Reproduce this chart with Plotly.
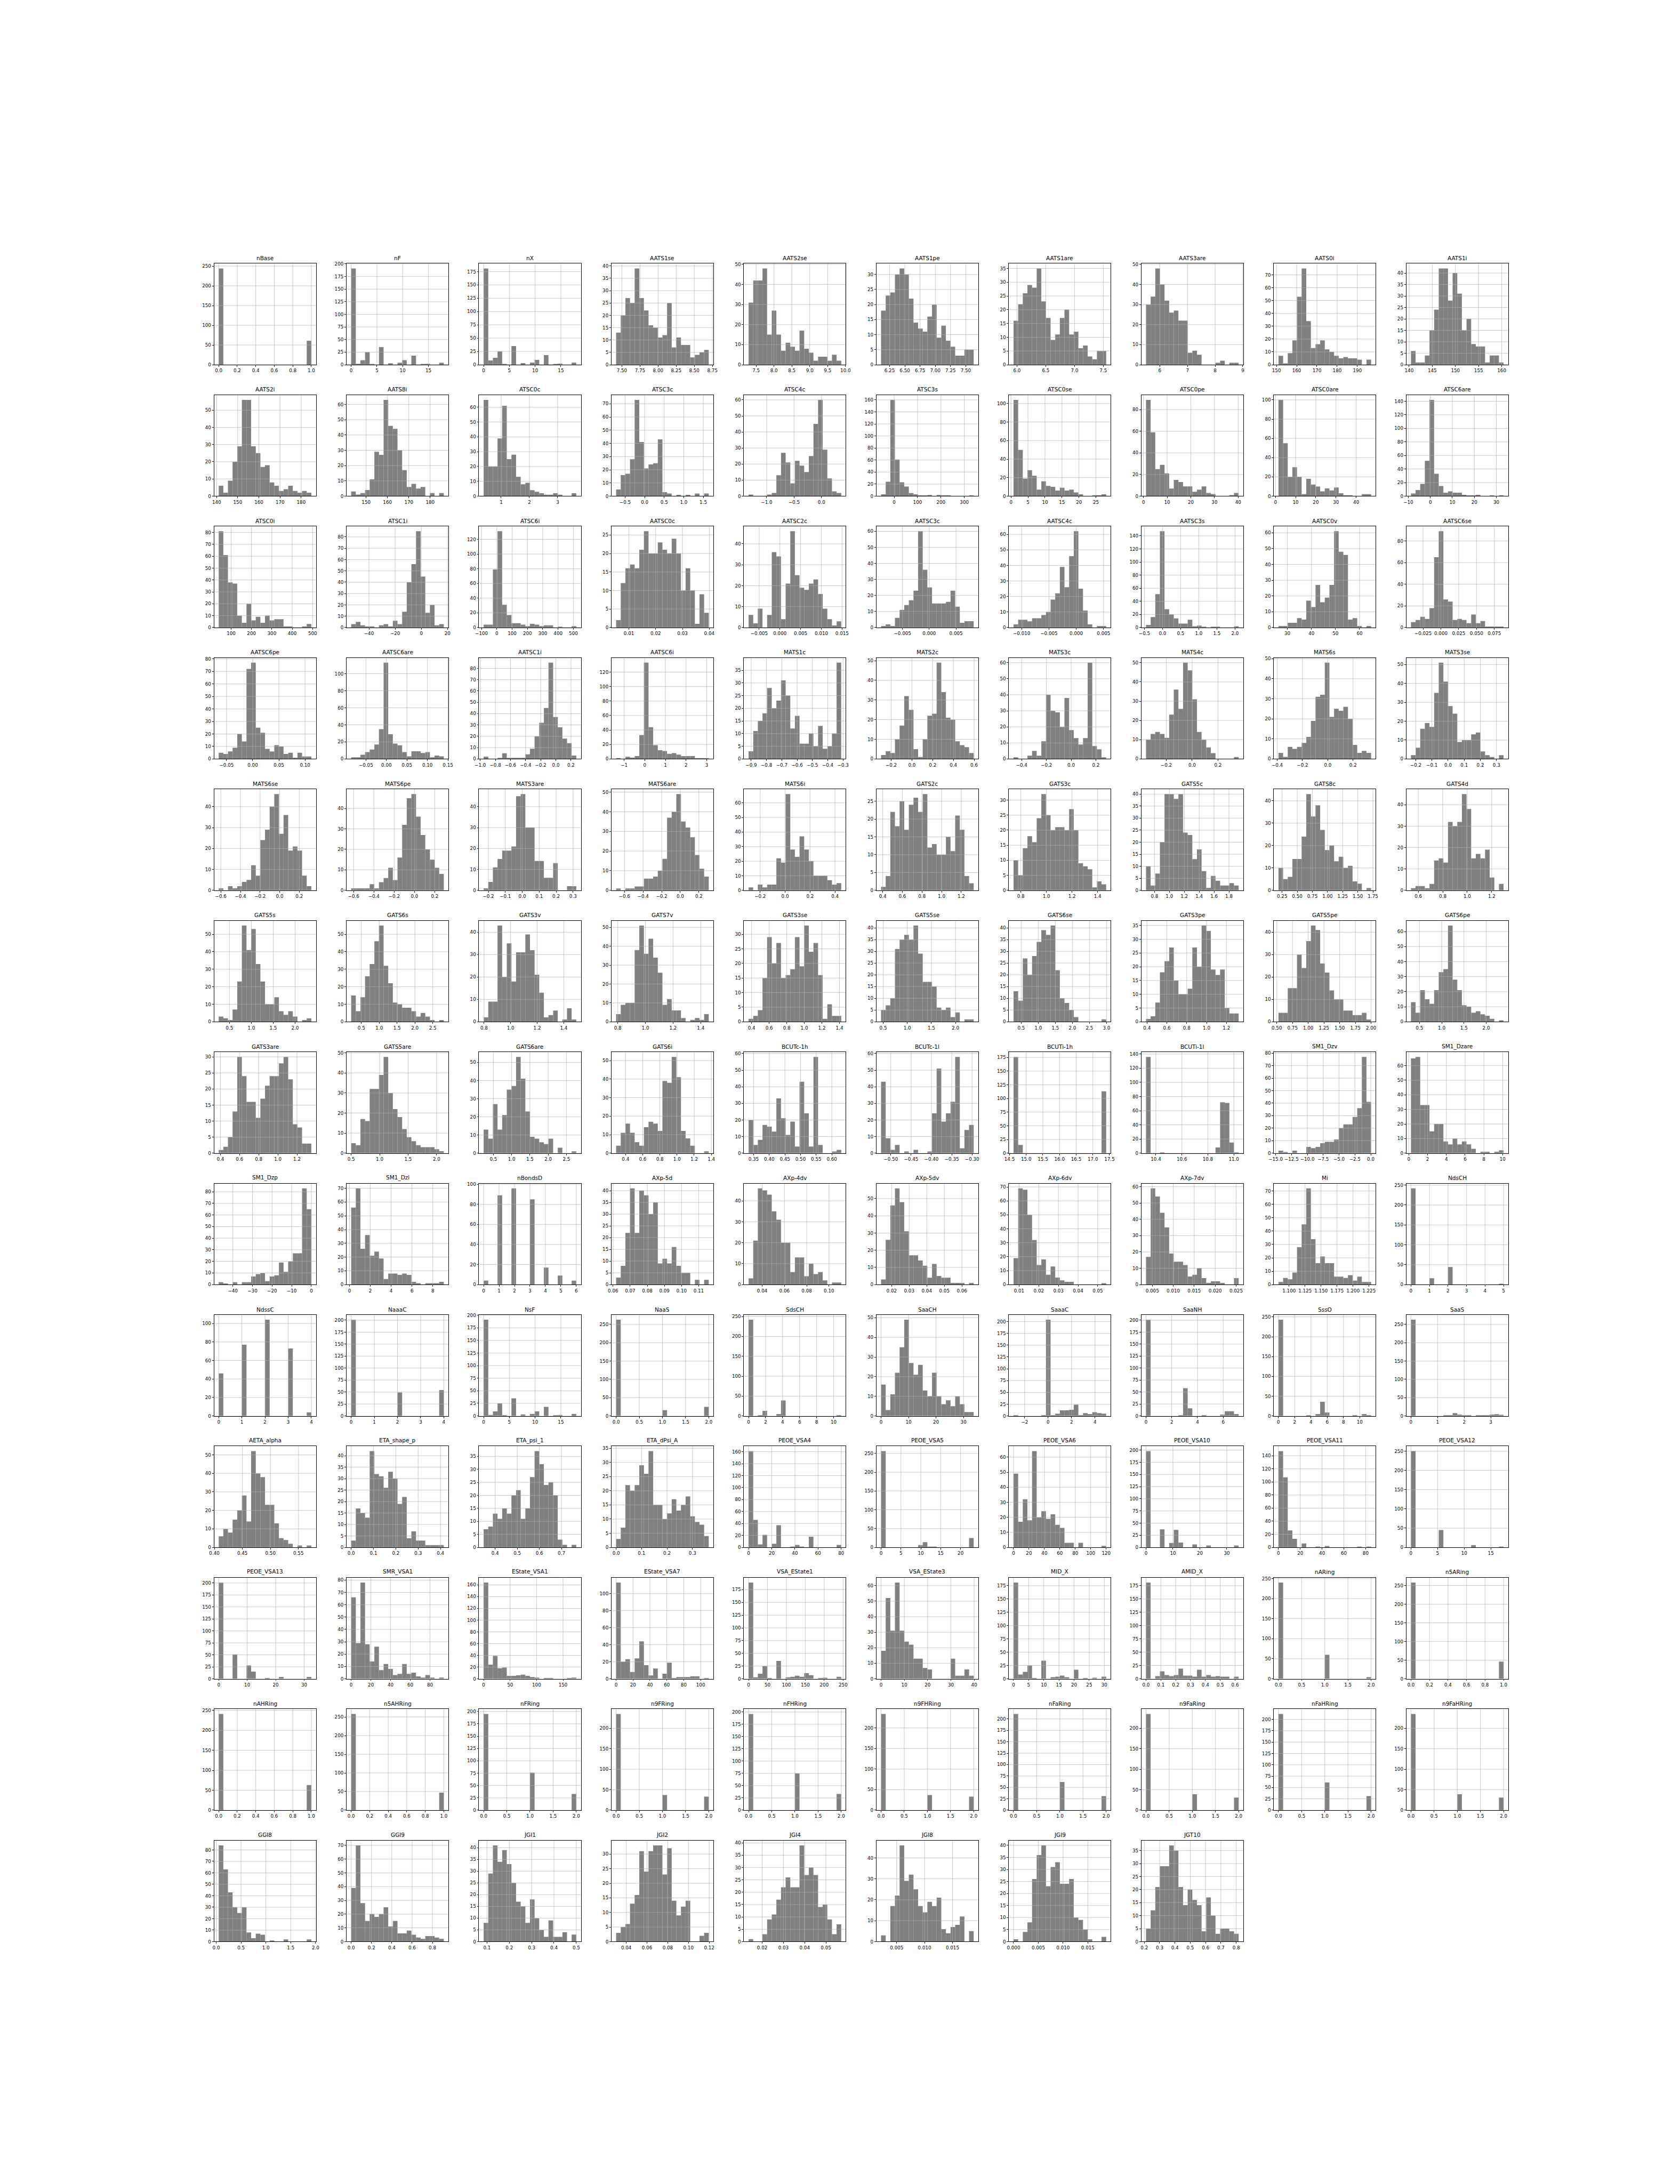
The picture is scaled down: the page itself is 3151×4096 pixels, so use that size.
import math
import numpy as np
import plotly.graph_objects as go

# ---------------------------------------------------------------------------
# Data: per grid row, the panel names, the (min, max)
# of each variable and the 20 histogram bin counts.
# ---------------------------------------------------------------------------
ROW01_NAMES = ["nBase", "nF", "nX", "AATS1se", "AATS2se", "AATS1pe", "AATS1are", "AATS3are", "AATS0i", "AATS1i"]
ROW01_RANGES = [(0, 1), (0, 18), (0, 18), (7.42, 8.70), (7.29, 9.88), (6.11, 7.63), (5.94, 7.55), (5.50, 8.85), (151, 196.8), (140.4, 160.4)]
ROW01_COUNTS = [
    [244, 0, 0, 0, 0, 0, 0, 0, 0, 0, 0, 0, 0, 0, 0, 0, 0, 0, 0, 61],
    [191, 2, 9, 25, 1, 0, 35, 0, 3, 0, 4, 9, 0, 18, 0, 1, 2, 0, 0, 4],
    [181, 8, 13, 25, 1, 0, 35, 0, 3, 0, 4, 9, 0, 18, 0, 1, 2, 0, 0, 4],
    [13, 20, 27, 25, 39, 27, 22, 16, 15, 11, 12, 25, 7, 11, 8, 8, 3, 4, 5, 6],
    [31, 42, 42, 48, 15, 27, 15, 7, 11, 9, 7, 17, 8, 6, 2, 4, 4, 2, 5, 2],
    [18, 23, 24, 30, 32, 30, 22, 14, 12, 11, 16, 20, 9, 13, 8, 6, 3, 3, 5, 5],
    [16, 22, 26, 29, 28, 35, 23, 17, 9, 11, 17, 20, 11, 12, 6, 7, 3, 2, 5, 5],
    [30, 34, 48, 40, 32, 26, 27, 22, 22, 6, 7, 5, 0, 0, 0, 1, 2, 0, 1, 1],
    [7, 1, 9, 19, 53, 75, 34, 13, 16, 19, 12, 10, 7, 5, 6, 5, 5, 4, 0, 4],
    [6, 1, 1, 4, 15, 24, 42, 42, 28, 40, 31, 15, 20, 9, 8, 8, 1, 4, 4, 1],
]

ROW02_NAMES = ["AATS2i", "AATS8i", "ATSC0c", "ATSC3c", "ATSC4c", "ATSC3s", "ATSC0se", "ATSC0pe", "ATSC0are", "ATSC6are"]
ROW02_RANGES = [(141, 184.8), (143, 186.4), (0.38, 3.66), (-0.73, 1.64), (-1.33, 0.36), (-56, 340), (0.75, 28.0), (1.07, 40.2), (1.5, 47.4), (-8.8, 33.3)]
ROW02_COUNTS = [
    [6, 2, 9, 20, 29, 56, 56, 29, 25, 17, 18, 8, 6, 3, 4, 6, 3, 2, 3, 2],
    [3, 1, 2, 4, 11, 29, 27, 63, 46, 44, 30, 17, 6, 8, 5, 6, 0, 2, 0, 2],
    [65, 20, 20, 39, 61, 25, 28, 13, 8, 9, 4, 3, 2, 1, 1, 2, 1, 0, 0, 2],
    [5, 16, 17, 28, 73, 41, 21, 24, 25, 43, 3, 2, 0, 1, 0, 1, 0, 2, 0, 2],
    [1, 0, 0, 0, 1, 2, 13, 27, 21, 8, 22, 19, 15, 25, 45, 60, 29, 11, 3, 2],
    [3, 24, 160, 61, 23, 16, 5, 3, 1, 1, 2, 0, 2, 1, 1, 0, 0, 0, 0, 1],
    [104, 50, 19, 28, 22, 7, 16, 11, 10, 6, 9, 6, 7, 4, 2, 0, 0, 1, 1, 2],
    [89, 59, 25, 29, 21, 7, 15, 13, 9, 9, 4, 6, 9, 3, 2, 0, 0, 0, 1, 3],
    [100, 55, 20, 30, 20, 2, 18, 12, 10, 5, 8, 6, 9, 3, 1, 1, 0, 0, 2, 2],
    [4, 9, 18, 52, 142, 33, 15, 5, 7, 5, 5, 2, 1, 1, 2, 0, 0, 1, 0, 1],
]

ROW03_NAMES = ["ATSC0i", "ATSC1i", "ATSC6i", "AATSC0c", "AATSC2c", "AATSC3c", "AATSC4c", "AATSC3s", "AATSC0v", "AATSC6se"]
ROW03_RANGES = [(39, 494), (-53.6, 17.2), (-86, 519), (0.00524, 0.0398), (-0.00756, 0.0148), (-0.0090, 0.0083), (-0.01148, 0.00547), (-0.456, 2.10), (26.3, 64.8), (-0.042, 0.088)]
ROW03_COUNTS = [
    [81, 61, 38, 37, 10, 4, 20, 6, 9, 4, 10, 6, 7, 7, 1, 1, 0, 0, 1, 3],
    [3, 5, 2, 1, 1, 0, 2, 3, 1, 6, 3, 14, 40, 56, 85, 45, 13, 20, 2, 3],
    [4, 4, 79, 131, 31, 17, 6, 6, 4, 2, 5, 4, 2, 3, 3, 0, 1, 0, 0, 2],
    [2, 12, 16, 17, 16, 21, 26, 20, 20, 23, 21, 20, 24, 20, 10, 16, 10, 1, 9, 4],
    [6, 2, 9, 0, 6, 36, 34, 4, 21, 46, 25, 19, 18, 21, 23, 16, 9, 4, 1, 3],
    [1, 2, 1, 6, 11, 14, 17, 23, 60, 36, 25, 15, 15, 15, 16, 23, 13, 3, 4, 4],
    [2, 5, 5, 4, 6, 6, 8, 10, 18, 22, 39, 26, 46, 62, 25, 11, 2, 0, 1, 1],
    [4, 16, 51, 147, 28, 20, 14, 6, 6, 12, 2, 3, 1, 0, 1, 1, 0, 0, 0, 2],
    [1, 1, 3, 3, 6, 5, 17, 13, 27, 16, 19, 27, 61, 48, 46, 5, 6, 1, 0, 1],
    [5, 7, 10, 8, 18, 65, 89, 26, 24, 7, 8, 7, 4, 12, 4, 6, 1, 1, 1, 1],
]

ROW04_NAMES = ["AATSC6pe", "AATSC6are", "AATSC1i", "AATSC6i", "MATS1c", "MATS2c", "MATS3c", "MATS4c", "MATS6s", "MATS3se"]
ROW04_RANGES = [(-0.065, 0.112), (-0.086, 0.140), (-0.955, 0.27), (-1.39, 3.1), (-0.917, -0.312), (-0.298, 0.596), (-0.466, 0.283), (-0.357, 0.36), (-0.39, 0.343), (-0.23, 0.344)]
ROW04_COUNTS = [
    [5, 4, 6, 9, 20, 14, 72, 77, 25, 21, 8, 6, 11, 10, 4, 5, 1, 5, 2, 2],
    [2, 2, 5, 8, 11, 17, 35, 113, 29, 18, 16, 8, 3, 9, 9, 7, 8, 2, 4, 3],
    [2, 0, 0, 1, 5, 1, 1, 1, 1, 4, 9, 20, 32, 45, 85, 37, 28, 18, 14, 3],
    [1, 0, 3, 2, 4, 33, 133, 44, 19, 12, 11, 7, 8, 6, 4, 4, 4, 1, 1, 1],
    [3, 11, 15, 18, 28, 20, 23, 31, 25, 12, 17, 6, 6, 10, 5, 13, 4, 5, 10, 38],
    [2, 4, 3, 10, 17, 32, 25, 5, 1, 10, 22, 23, 49, 34, 21, 20, 9, 7, 6, 3],
    [1, 0, 0, 2, 5, 2, 11, 40, 30, 29, 20, 38, 18, 13, 9, 13, 60, 8, 6, 1],
    [10, 13, 14, 13, 11, 23, 36, 26, 50, 46, 31, 14, 10, 6, 3, 0, 0, 0, 0, 1],
    [3, 1, 6, 5, 6, 8, 11, 19, 31, 32, 48, 21, 25, 24, 26, 20, 7, 3, 4, 3],
    [2, 6, 16, 19, 17, 35, 51, 41, 28, 24, 9, 10, 10, 13, 14, 4, 2, 1, 0, 2],
]

ROW05_NAMES = ["MATS6se", "MATS6pe", "MATS3are", "MATS6are", "MATS6i", "GATS2c", "GATS3c", "GATS5c", "GATS8c", "GATS4d"]
ROW05_RANGES = [(-0.622, 0.323), (-0.624, 0.289), (-0.228, 0.319), (-0.69, 0.306), (-0.293, 0.45), (0.383, 1.327), (0.743, 1.467), (0.686, 1.93), (0.19, 1.72), (0.54, 1.297)]
ROW05_COUNTS = [
    [1, 0, 2, 1, 2, 4, 5, 12, 7, 24, 29, 40, 46, 27, 36, 19, 21, 19, 7, 2],
    [1, 1, 1, 1, 3, 1, 4, 6, 11, 5, 16, 32, 45, 47, 36, 27, 20, 15, 11, 8],
    [1, 4, 11, 15, 19, 19, 21, 45, 46, 30, 30, 14, 14, 6, 6, 13, 0, 0, 2, 2],
    [1, 0, 1, 1, 2, 2, 6, 6, 7, 10, 16, 37, 40, 49, 35, 32, 27, 18, 11, 7],
    [2, 0, 4, 2, 4, 4, 22, 19, 66, 28, 23, 37, 28, 20, 10, 10, 10, 7, 4, 5],
    [1, 4, 22, 18, 25, 17, 24, 26, 22, 27, 12, 13, 10, 10, 15, 11, 21, 17, 4, 2],
    [10, 5, 14, 18, 16, 24, 32, 25, 20, 21, 21, 20, 27, 20, 9, 8, 7, 1, 3, 2],
    [10, 2, 7, 20, 40, 40, 38, 40, 24, 23, 13, 17, 8, 1, 6, 4, 2, 2, 3, 2],
    [10, 5, 6, 14, 14, 24, 43, 33, 38, 27, 18, 20, 13, 15, 10, 11, 4, 3, 0, 1],
    [1, 2, 2, 1, 3, 14, 15, 13, 32, 30, 32, 45, 38, 15, 17, 15, 19, 6, 0, 3],
]

ROW06_NAMES = ["GATS5s", "GATS6s", "GATS3v", "GATS7v", "GATS3se", "GATS5se", "GATS6se", "GATS3pe", "GATS5pe", "GATS6pe"]
ROW06_RANGES = [(0.255, 2.37), (0.214, 2.81), (0.797, 1.494), (0.788, 1.458), (0.366, 1.42), (0.456, 2.377), (0.275, 2.99), (0.39, 1.323), (0.527, 2.0), (0.31, 2.39)]
ROW06_COUNTS = [
    [3, 2, 1, 7, 23, 55, 41, 53, 33, 23, 10, 10, 14, 6, 4, 6, 3, 0, 1, 2],
    [15, 6, 14, 26, 33, 46, 55, 32, 22, 11, 10, 8, 8, 6, 3, 5, 3, 1, 0, 1],
    [2, 9, 9, 43, 20, 35, 18, 31, 31, 39, 32, 21, 13, 2, 3, 5, 0, 1, 6, 1],
    [4, 9, 10, 10, 38, 51, 36, 44, 34, 26, 9, 12, 6, 6, 2, 0, 1, 2, 1, 4],
    [1, 2, 4, 15, 29, 20, 27, 15, 16, 18, 29, 19, 33, 24, 27, 16, 1, 6, 2, 2],
    [5, 7, 10, 31, 35, 37, 35, 41, 29, 17, 17, 15, 6, 5, 6, 2, 4, 0, 1, 1],
    [13, 9, 27, 20, 28, 34, 39, 37, 41, 22, 10, 8, 5, 2, 0, 0, 0, 0, 0, 1],
    [1, 2, 7, 18, 22, 27, 15, 10, 10, 12, 27, 20, 35, 33, 19, 17, 19, 5, 3, 3],
    [4, 4, 15, 15, 30, 24, 36, 43, 41, 26, 22, 14, 10, 10, 5, 5, 3, 3, 4, 1],
    [13, 6, 21, 15, 12, 21, 33, 35, 64, 28, 21, 11, 10, 6, 7, 5, 4, 2, 0, 1],
]

ROW07_NAMES = ["GATS3are", "GATS5are", "GATS6are", "GATS6i", "BCUTc-1h", "BCUTc-1l", "BCUTi-1h", "BCUTi-1l", "SM1_Dzv", "SM1_Dzare"]
ROW07_RANGES = [(0.382, 1.35), (0.5, 2.127), (0.233, 2.77), (0.29, 1.37), (0.334, 0.630), (-0.524, -0.296), (14.62, 17.40), (10.324, 11.037), (-14.55, 0.05), (0.23, 10.1)]
ROW07_COUNTS = [
    [1, 2, 5, 13, 30, 24, 16, 16, 11, 17, 21, 24, 24, 28, 30, 23, 9, 8, 3, 3],
    [5, 4, 17, 16, 32, 32, 39, 48, 30, 22, 18, 12, 8, 6, 4, 3, 3, 3, 2, 1],
    [13, 8, 27, 13, 21, 35, 37, 53, 41, 23, 9, 8, 6, 5, 8, 0, 3, 0, 0, 1],
    [4, 11, 16, 11, 6, 4, 14, 17, 16, 12, 39, 38, 52, 41, 12, 8, 4, 0, 0, 1],
    [20, 5, 8, 17, 16, 13, 33, 21, 11, 19, 4, 43, 24, 4, 58, 5, 0, 0, 1, 2],
    [43, 9, 2, 5, 0, 1, 0, 2, 0, 0, 1, 24, 51, 19, 24, 31, 58, 3, 14, 17],
    [176, 15, 0, 0, 0, 0, 0, 0, 0, 0, 0, 0, 0, 0, 0, 0, 0, 0, 0, 113],
    [136, 0, 0, 1, 0, 0, 0, 0, 0, 0, 0, 0, 0, 0, 0, 8, 72, 71, 15, 1],
    [2, 1, 0, 2, 0, 0, 5, 4, 5, 8, 9, 9, 11, 20, 23, 23, 29, 36, 77, 41],
    [65, 66, 33, 33, 15, 20, 20, 8, 6, 10, 6, 8, 6, 3, 0, 1, 1, 0, 1, 2],
]

ROW08_NAMES = ["SM1_Dzp", "SM1_Dzi", "nBondsD", "AXp-5d", "AXp-4dv", "AXp-5dv", "AXp-6dv", "AXp-7dv", "Mi", "NdsCH"]
ROW08_RANGES = [(-47.2, 0.0), (0.16, 9.06), (0, 6), (0.0618, 0.1159), (0.0278, 0.111), (0.014, 0.0667), (0.00717, 0.0543), (0.0035, 0.0256), (1.0834, 1.2283), (0, 5)]
ROW08_COUNTS = [
    [2, 1, 0, 2, 0, 2, 2, 7, 9, 10, 3, 7, 8, 19, 11, 20, 27, 27, 83, 65],
    [56, 70, 26, 36, 21, 24, 19, 4, 8, 8, 7, 8, 7, 2, 1, 0, 1, 1, 1, 2],
    [4, 0, 0, 89, 0, 0, 96, 0, 0, 0, 85, 0, 0, 17, 0, 0, 9, 0, 0, 4],
    [3, 8, 22, 41, 22, 40, 38, 30, 35, 9, 11, 9, 16, 8, 5, 5, 0, 2, 0, 2],
    [3, 21, 46, 45, 43, 35, 31, 20, 20, 6, 13, 13, 4, 10, 5, 6, 2, 0, 1, 1],
    [3, 26, 46, 56, 48, 31, 17, 17, 14, 11, 4, 12, 5, 4, 4, 1, 1, 1, 0, 1],
    [19, 69, 68, 50, 32, 14, 18, 7, 13, 5, 3, 2, 2, 0, 0, 0, 0, 0, 0, 1],
    [17, 59, 54, 44, 35, 19, 14, 14, 12, 5, 6, 10, 4, 1, 2, 2, 1, 0, 0, 4],
    [2, 5, 4, 9, 28, 45, 72, 34, 16, 21, 16, 16, 6, 6, 5, 7, 3, 6, 2, 2],
    [242, 0, 0, 0, 16, 0, 0, 0, 44, 0, 0, 0, 0, 0, 0, 0, 0, 0, 0, 2],
]

ROW09_NAMES = ["NdssC", "NaaaC", "NsF", "NaaS", "SdsCH", "SaaCH", "SaaaC", "SaaNH", "SssO", "SaaS"]
ROW09_RANGES = [(0, 4), (0, 4), (0, 18), (0, 2), (0, 10.9), (0, 33.7), (-2.95, 4.95), (0, 7.2), (0, 11.4), (0, 3.48)]
ROW09_COUNTS = [
    [46, 0, 0, 0, 0, 77, 0, 0, 0, 0, 104, 0, 0, 0, 0, 73, 0, 0, 0, 4],
    [201, 0, 0, 0, 0, 0, 0, 0, 0, 0, 49, 0, 0, 0, 0, 0, 0, 0, 0, 54],
    [191, 2, 9, 25, 1, 0, 35, 0, 3, 0, 4, 9, 0, 18, 0, 1, 2, 0, 0, 4],
    [263, 0, 0, 0, 0, 0, 0, 0, 0, 0, 16, 0, 0, 0, 0, 0, 0, 0, 0, 25],
    [242, 0, 1, 13, 0, 0, 5, 39, 0, 0, 0, 0, 0, 0, 0, 0, 0, 0, 0, 2],
    [16, 3, 11, 22, 35, 49, 27, 21, 26, 13, 10, 22, 10, 6, 8, 5, 10, 6, 2, 2],
    [1, 0, 0, 0, 0, 0, 1, 204, 1, 5, 12, 12, 13, 24, 1, 6, 4, 8, 6, 5],
    [201, 0, 0, 0, 0, 0, 0, 1, 58, 16, 0, 0, 1, 0, 0, 0, 3, 10, 10, 4],
    [243, 0, 0, 0, 0, 0, 2, 0, 5, 36, 9, 0, 0, 0, 0, 0, 2, 0, 5, 2],
    [263, 0, 0, 0, 0, 0, 0, 2, 2, 8, 4, 2, 2, 0, 2, 2, 2, 4, 5, 3],
]

ROW10_NAMES = ["AETA_alpha", "ETA_shape_p", "ETA_psi_1", "ETA_dPsi_A", "PEOE_VSA4", "PEOE_VSA5", "PEOE_VSA6", "PEOE_VSA10", "PEOE_VSA11", "PEOE_VSA12"]
ROW10_RANGES = [(0.4077, 0.573), (0, 0.415), (0.348, 0.767), (0, 0.364), (0, 80), (0, 23.3), (0, 120), (0, 34.4), (0, 85), (0, 17.4)]
ROW10_COUNTS = [
    [6, 10, 8, 15, 20, 28, 14, 52, 40, 38, 23, 23, 13, 5, 4, 2, 0, 1, 0, 1],
    [3, 17, 15, 13, 42, 32, 31, 26, 33, 30, 19, 22, 4, 7, 3, 3, 1, 1, 1, 1],
    [7, 8, 13, 11, 15, 13, 20, 22, 11, 15, 27, 37, 32, 24, 25, 20, 3, 1, 0, 1],
    [3, 7, 22, 20, 22, 29, 26, 34, 15, 15, 10, 12, 17, 13, 15, 18, 11, 9, 8, 4],
    [161, 46, 5, 21, 0, 6, 37, 0, 0, 1, 4, 1, 0, 18, 0, 0, 0, 0, 0, 4],
    [256, 0, 0, 0, 0, 0, 0, 0, 6, 14, 2, 2, 0, 0, 0, 0, 0, 0, 0, 25],
    [49, 17, 32, 18, 64, 20, 24, 19, 22, 15, 13, 3, 3, 0, 3, 0, 0, 0, 0, 1],
    [198, 0, 0, 37, 0, 9, 36, 10, 0, 0, 6, 0, 0, 4, 0, 0, 0, 0, 0, 4],
    [147, 107, 26, 13, 0, 6, 0, 0, 1, 0, 2, 0, 0, 0, 0, 0, 0, 1, 0, 1],
    [250, 0, 0, 0, 0, 0, 45, 0, 0, 0, 0, 0, 0, 6, 0, 0, 0, 0, 0, 2],
]

ROW11_NAMES = ["PEOE_VSA13", "SMR_VSA1", "EState_VSA1", "EState_VSA7", "VSA_EState1", "VSA_EState3", "MID_X", "AMID_X", "nARing", "n5ARing"]
ROW11_RANGES = [(0, 32.5), (0, 94), (0, 175), (0, 109.6), (0, 245), (0, 39.8), (0, 30.6), (0, 0.624), (0, 2), (0, 1)]
ROW11_COUNTS = [
    [201, 0, 0, 51, 0, 0, 28, 15, 0, 0, 1, 0, 0, 4, 0, 0, 0, 0, 0, 4],
    [66, 29, 78, 28, 14, 26, 7, 12, 8, 3, 4, 12, 4, 5, 2, 1, 3, 1, 0, 1],
    [164, 24, 39, 18, 19, 5, 5, 6, 7, 5, 3, 2, 0, 1, 1, 0, 0, 0, 1, 2],
    [113, 20, 23, 8, 24, 44, 16, 4, 12, 0, 6, 19, 1, 2, 2, 2, 3, 3, 0, 1],
    [189, 3, 10, 25, 1, 0, 35, 0, 3, 4, 6, 4, 11, 7, 0, 1, 2, 0, 0, 4],
    [18, 52, 31, 62, 31, 24, 22, 13, 13, 7, 6, 0, 0, 0, 0, 13, 2, 2, 6, 2],
    [181, 8, 13, 25, 1, 0, 34, 0, 3, 4, 6, 3, 0, 17, 0, 1, 0, 2, 0, 4],
    [181, 0, 5, 14, 7, 5, 7, 19, 6, 6, 4, 17, 4, 7, 4, 5, 4, 4, 0, 4],
    [240, 0, 0, 0, 0, 0, 0, 0, 0, 0, 60, 0, 0, 0, 0, 0, 0, 0, 0, 4],
    [258, 0, 0, 0, 0, 0, 0, 0, 0, 0, 0, 0, 0, 0, 0, 0, 0, 0, 0, 46],
]

ROW12_NAMES = ["nAHRing", "n5AHRing", "nFRing", "n9FRing", "nFHRing", "n9FHRing", "nFaRing", "n9FaRing", "nFaHRing", "n9FaHRing"]
ROW12_RANGES = [(0, 1), (0, 1), (0, 2), (0, 2), (0, 2), (0, 2), (0, 2), (0, 2), (0, 2), (0, 2)]
ROW12_COUNTS = [
    [241, 0, 0, 0, 0, 0, 0, 0, 0, 0, 0, 0, 0, 0, 0, 0, 0, 0, 0, 63],
    [258, 0, 0, 0, 0, 0, 0, 0, 0, 0, 0, 0, 0, 0, 0, 0, 0, 0, 0, 47],
    [195, 0, 0, 0, 0, 0, 0, 0, 0, 0, 76, 0, 0, 0, 0, 0, 0, 0, 0, 33],
    [235, 0, 0, 0, 0, 0, 0, 0, 0, 0, 37, 0, 0, 0, 0, 0, 0, 0, 0, 33],
    [196, 0, 0, 0, 0, 0, 0, 0, 0, 0, 75, 0, 0, 0, 0, 0, 0, 0, 0, 33],
    [234, 0, 0, 0, 0, 0, 0, 0, 0, 0, 37, 0, 0, 0, 0, 0, 0, 0, 0, 33],
    [211, 0, 0, 0, 0, 0, 0, 0, 0, 0, 62, 0, 0, 0, 0, 0, 0, 0, 0, 31],
    [235, 0, 0, 0, 0, 0, 0, 0, 0, 0, 39, 0, 0, 0, 0, 0, 0, 0, 0, 31],
    [212, 0, 0, 0, 0, 0, 0, 0, 0, 0, 61, 0, 0, 0, 0, 0, 0, 0, 0, 31],
    [235, 0, 0, 0, 0, 0, 0, 0, 0, 0, 39, 0, 0, 0, 0, 0, 0, 0, 0, 31],
]

ROW13_NAMES = ["GGI8", "GGI9", "JGI1", "JGI2", "JGI4", "JGI8", "JGI9", "JGT10"]
ROW13_RANGES = [(0.05, 1.915), (0, 0.912), (0.085, 0.5), (0.0302, 0.1196), (0.0136, 0.0572), (0.0022, 0.0188), (0, 0.0187), (0.211, 0.816)]
ROW13_COUNTS = [
    [84, 63, 43, 30, 25, 30, 8, 3, 7, 6, 0, 1, 0, 0, 2, 0, 0, 0, 0, 2],
    [39, 70, 28, 15, 20, 18, 20, 25, 11, 15, 6, 6, 8, 5, 3, 2, 4, 4, 3, 2],
    [8, 29, 41, 34, 39, 33, 25, 17, 15, 8, 18, 10, 5, 2, 9, 2, 2, 4, 0, 3],
    [3, 5, 6, 13, 16, 31, 24, 31, 33, 33, 23, 32, 14, 9, 12, 14, 0, 0, 2, 3],
    [1, 0, 0, 3, 9, 11, 17, 22, 26, 22, 22, 39, 27, 30, 27, 14, 15, 9, 3, 7],
    [3, 0, 17, 22, 46, 29, 32, 25, 17, 14, 19, 17, 21, 6, 4, 7, 8, 12, 0, 5],
    [1, 0, 4, 8, 26, 36, 40, 23, 31, 33, 24, 24, 26, 10, 9, 5, 1, 0, 0, 2],
    [5, 12, 21, 29, 29, 37, 35, 21, 14, 20, 16, 14, 4, 17, 10, 3, 5, 5, 4, 3],
]

ROWS = [
    (ROW01_NAMES, ROW01_RANGES, ROW01_COUNTS),
    (ROW02_NAMES, ROW02_RANGES, ROW02_COUNTS),
    (ROW03_NAMES, ROW03_RANGES, ROW03_COUNTS),
    (ROW04_NAMES, ROW04_RANGES, ROW04_COUNTS),
    (ROW05_NAMES, ROW05_RANGES, ROW05_COUNTS),
    (ROW06_NAMES, ROW06_RANGES, ROW06_COUNTS),
    (ROW07_NAMES, ROW07_RANGES, ROW07_COUNTS),
    (ROW08_NAMES, ROW08_RANGES, ROW08_COUNTS),
    (ROW09_NAMES, ROW09_RANGES, ROW09_COUNTS),
    (ROW10_NAMES, ROW10_RANGES, ROW10_COUNTS),
    (ROW11_NAMES, ROW11_RANGES, ROW11_COUNTS),
    (ROW12_NAMES, ROW12_RANGES, ROW12_COUNTS),
    (ROW13_NAMES, ROW13_RANGES, ROW13_COUNTS),
]
N_BINS = 20

# ---------------------------------------------------------------------------
# Layout (matplotlib-like subplot grid, scaled to 0.63)
# ---------------------------------------------------------------------------
W, H = 3151, 4096
S = 0.63
LEFT, RIGHT, BOTTOM, TOP = 0.125, 0.9, 0.11, 0.88
WSPACE = HSPACE = 0.3
NCOLS, NROWS = 10, 13
AX_W = (RIGHT - LEFT) / (NCOLS + (NCOLS - 1) * WSPACE)
AX_H = (TOP - BOTTOM) / (NROWS + (NROWS - 1) * HSPACE)

FONT = "DejaVu Sans"
TICK_PX = 13.889 * S
TITLE_PX = 16.667 * S
LINE_W = 1.111 * S
TICK_LEN = 4.861 * S
BAR_COLOR = "#808080"
GRID_COLOR = "#b0b0b0"
MINUS = "\u2212"


def nice_ticks(vmin, vmax, nbins):
    """MaxNLocator-like tick choice (steps 1, 2, 2.5, 5, 10)."""
    dv = vmax - vmin
    raw = dv / nbins
    scale = 10 ** math.floor(math.log10(raw))
    for m in (0.1, 0.2, 0.25, 0.5, 1, 2, 2.5, 5, 10, 20, 25, 50):
        step = m * scale
        if step < raw * (1 - 1e-9):
            continue
        k0 = math.ceil(vmin / step - 1e-9)
        k1 = math.floor(vmax / step + 1e-9)
        ticks = [k * step for k in range(k0, k1 + 1)]
        if len(ticks) >= 2:
            return ticks
    return [vmin, vmax]


def fmt_ticks(ticks):
    arr = np.array(ticks, dtype=float)
    rng = arr.max() - arr.min()
    oom = math.floor(math.log10(rng)) if rng > 0 else 0
    sig = max(0, 3 - oom)
    thresh = 1e-3 * 10 ** oom
    while sig >= 0:
        if np.abs(arr - np.round(arr, sig)).max() < thresh:
            sig -= 1
        else:
            break
    sig += 1
    out = []
    for v in arr:
        if abs(v) < 1e-12:
            v = 0.0
        s = f"{v:.{sig}f}"
        out.append(s.replace("-", MINUS))
    return out


fig = go.Figure()
layout_axes = {}
annotations = []

idx = 0
for r, (names, ranges, counts_list) in enumerate(ROWS):
    for c, (name, (lo, hi), counts) in enumerate(zip(names, ranges, counts_list)):
        idx += 1
        k = "" if idx == 1 else str(idx)
        x0 = LEFT + c * AX_W * (1 + WSPACE)
        x1 = x0 + AX_W
        y1 = TOP - r * AX_H * (1 + HSPACE)
        y0 = y1 - AX_H

        edges = np.linspace(lo, hi, N_BINS + 1)
        centers = 0.5 * (edges[:-1] + edges[1:])
        bw = edges[1] - edges[0]
        span = hi - lo
        xr = [lo - 0.05 * span, hi + 0.05 * span]
        ytop = max(counts) * 1.05
        yr = [0, ytop]

        xt = nice_ticks(xr[0], xr[1], 7)
        yt = nice_ticks(0, ytop, 9)

        fig.add_trace(go.Bar(
            x=centers, y=counts, width=[bw] * N_BINS,
            marker=dict(color=BAR_COLOR, line=dict(width=0)),
            xaxis="x" + k, yaxis="y" + k, showlegend=False, hoverinfo="skip",
        ))
        # grid drawn above the bars (as matplotlib does)
        gx, gy = [], []
        for t in xt:
            gx += [t, t, None]
            gy += [0, ytop, None]
        for t in yt:
            gx += [xr[0], xr[1], None]
            gy += [t, t, None]
        fig.add_trace(go.Scatter(
            x=gx, y=gy, mode="lines", line=dict(color=GRID_COLOR, width=LINE_W),
            xaxis="x" + k, yaxis="y" + k, showlegend=False, hoverinfo="skip",
            cliponaxis=True,
        ))

        common = dict(
            showgrid=False, zeroline=False, showline=True, mirror=True,
            linecolor="black", linewidth=LINE_W, ticks="outside",
            ticklen=TICK_LEN, tickwidth=LINE_W, tickcolor="black",
            tickfont=dict(family=FONT, size=TICK_PX, color="black"),
            tickangle=0, fixedrange=True, tickmode="array",
        )
        layout_axes["xaxis" + k] = dict(
            domain=[x0, x1], anchor="y" + k, range=xr,
            tickvals=xt, ticktext=fmt_ticks(xt), **common)
        layout_axes["yaxis" + k] = dict(
            domain=[y0, y1], anchor="x" + k, range=yr,
            tickvals=yt, ticktext=fmt_ticks(yt), **common)

        annotations.append(dict(
            text=name, x=(x0 + x1) / 2, y=y1, xref="paper", yref="paper",
            xanchor="center", yanchor="bottom", yshift=2.5, showarrow=False,
            font=dict(family=FONT, size=TITLE_PX, color="black"),
        ))

fig.update_layout(
    width=W, height=H, autosize=False,
    margin=dict(l=0, r=0, t=0, b=0, pad=0),
    paper_bgcolor="white", plot_bgcolor="white",
    font=dict(family=FONT, color="black"),
    annotations=annotations,
    showlegend=False,
    **layout_axes,
)

fig.write_html("out.html")
